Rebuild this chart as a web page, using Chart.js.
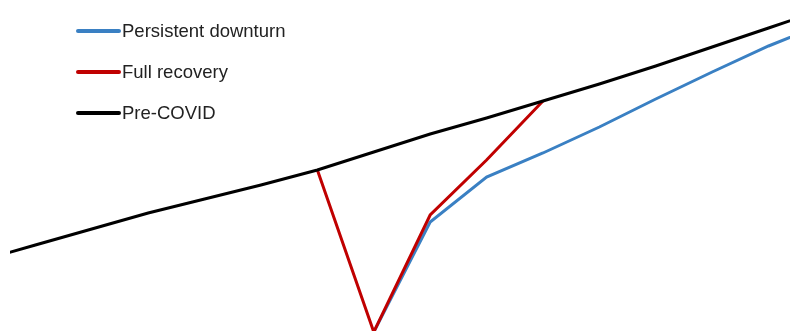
<!DOCTYPE html>
<html>
<head>
<meta charset="utf-8">
<script src="https://cdn.jsdelivr.net/npm/chart.js@4/dist/chart.umd.min.js"></script>
<style>
  body { margin: 0; background: #fff; }
  #wrap { position: relative; width: 790px; height: 331px; }
  #legenda { position: absolute; left: 76px; top: 10px; font-family: "Liberation Sans", Arial, sans-serif; font-size: 18.5px; color: #222; }
  .item { display: flex; align-items: center; height: 41px; }
  .traco { width: 45px; height: 4px; border-radius: 2px; margin-right: 1px; }
</style>
</head>
<body>
<div id="wrap">
  <canvas id="grafico" width="790" height="331"></canvas>
  <div id="legenda"></div>
</div>
<script>
// Trimestres (indice = posicao no eixo x)
var trimestres = ['2018Q3', '2018Q4', '2019Q1', '2019Q2', '2019Q3', '2019Q4', '2020Q1', '2020Q2',
                  '2020Q3', '2020Q4', '2021Q1', '2021Q2', '2021Q3', '2021Q4', '2022Q1', '2022Q2'];

// Valores (indice, pre-COVID 2020Q1 = 100)
var preCovid = [90.9, 92.5, 94.1, 95.7, 97.1, 98.5, 100.0, 101.8, 103.6, 105.2, 106.9, 108.6, 110.4, 112.3, 114.2, 116.1];
var recuperacao = [null, null, null, null, null, null, 100.0, 83.8, 95.5, 101.0, 106.9, null, null, null, null, null];
var persistente = [null, null, null, null, null, null, null, 83.8, 94.8, 99.3, 101.7, 104.3, 107.1, 109.8, 112.4, 114.7];

// faixa visivel (a figura esta recortada)
var xMin = 0.55, xMax = 14.38;
var yMin = 83.9, yMax = 117.0;

function pontos(serie) {
    var lista = [];
    serie.forEach(function (v, i) {
        if (v !== null) lista.push({ x: i, y: v });
    });
    return lista;
}

var series = [
    { label: 'Persistent downturn', dados: persistente, cor: '#3a80c3', ordem: 2 },
    { label: 'Full recovery', dados: recuperacao, cor: '#c00000', ordem: 1 },
    { label: 'Pre-COVID', dados: preCovid, cor: '#000000', ordem: 0 }
];

var ctx = document.getElementById('grafico').getContext('2d');
var myChart = new Chart(ctx, {
    type: 'line',
    data: {
        datasets: series.map(function (s) {
            return {
                label: s.label,
                data: pontos(s.dados),
                borderColor: s.cor,
                backgroundColor: s.cor,
                borderWidth: 3,
                pointRadius: 0,
                tension: 0,
                order: s.ordem
            };
        })
    },
    options: {
        responsive: false,
        animation: false,
        layout: { padding: { left: 10, right: 0, top: 0, bottom: 0 } },
        plugins: { legend: { display: false }, tooltip: { enabled: false } },
        scales: {
            x: { type: 'linear', display: false, min: xMin, max: xMax },
            y: { display: false, min: yMin, max: yMax }
        }
    }
});

// legenda em html
var legenda = document.getElementById('legenda');
series.forEach(function (s) {
    var item = document.createElement('div');
    item.className = 'item';
    item.innerHTML = '<span class="traco" style="background:' + s.cor + '"></span><span>' + s.label + '</span>';
    legenda.appendChild(item);
});
</script>
</body>
</html>
